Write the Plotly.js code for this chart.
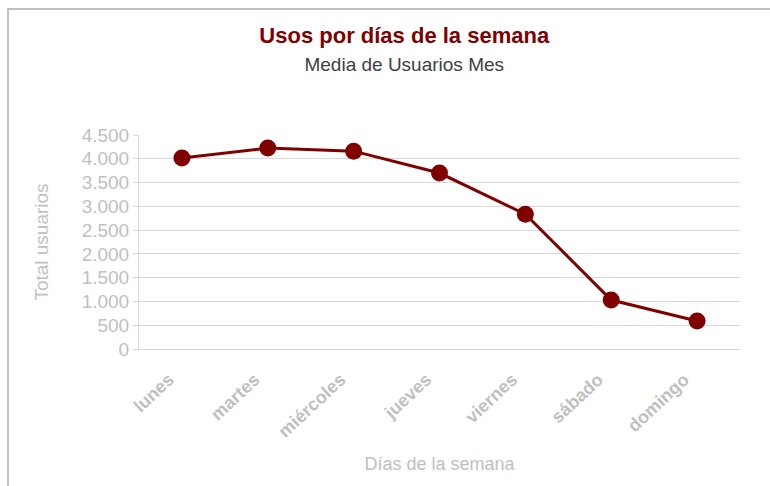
<!DOCTYPE html>
<html>
<head>
<meta charset="utf-8">
<script src="https://cdn.plot.ly/plotly-3.0.1.min.js"></script>
<style>
html,body{margin:0;padding:0;background:#fff;}
#wrap{position:relative;width:770px;height:486px;overflow:hidden;}
#chart{width:770px;height:486px;}
#frame{position:absolute;left:7px;top:8px;width:800px;height:500px;border-top:2px solid #bfbfbf;border-left:2px solid #bfbfbf;pointer-events:none;}
</style>
</head>
<body>
<div id="wrap"><div id="chart"></div><div id="frame"></div></div>
<script>
const categories = ["lunes", "martes", "miércoles", "jueves", "viernes", "sábado", "domingo"];
const usuarios = [4015, 4225, 4160, 3700, 2835, 1030, 590];
const yTicks = [0, 500, 1000, 1500, 2000, 2500, 3000, 3500, 4000, 4500];
const chartTitle = "Usos por días de la semana";
const chartSubtitle = "Media de Usuarios Mes";
const xTitle = "Días de la semana";
const yTitle = "Total usuarios";

const grey = "#bfbfbf";
const font = "Liberation Sans, Arial, sans-serif";

const trace = {
  type: "scatter",
  mode: "lines+markers",
  x: categories,
  y: usuarios,
  line: {color: "#800000", width: 3},
  marker: {color: "#800000", size: 17},
  hoverinfo: "x+y"
};

const layout = {
  width: 770, height: 486,
  margin: {l: 139, r: 30, t: 135, b: 137},
  paper_bgcolor: "#fff", plot_bgcolor: "#fff",
  separators: ",.",
  showlegend: false,
  font: {family: font, color: grey},
  title: {
    text: "<b>" + chartTitle + "</b><br><span style='font-size:19px;color:#404040'>" + chartSubtitle + "</span>",
    font: {family: font, size: 22, color: "#800000"},
    x: 0.525, xanchor: "center", xref: "container",
    y: 0.912, yanchor: "top", yref: "container"
  },
  xaxis: {
    type: "category",
    tickangle: -43,
    tickfont: {family: font, size: 18, color: grey, weight: "bold"},
    ticklabelstandoff: 12,
    ticklabelshift: -13,
    showline: true, linecolor: "#d9d9d9", linewidth: 1,
    showgrid: false, ticks: "",
    title: {text: xTitle, font: {family: font, size: 18, color: grey}, standoff: 16},
    range: [-0.5, 6.5]
  },
  yaxis: {
    range: [0, 4500],
    tickvals: yTicks,
    tickformat: ",d",
    tickfont: {family: font, size: 19, color: grey},
    ticks: "outside", ticklen: 5, tickcolor: "#d9d9d9",
    showline: true, linecolor: "#d9d9d9", linewidth: 1,
    showgrid: true, gridcolor: "#d9d9d9", gridwidth: 1,
    zeroline: false,
    title: {text: yTitle, font: {family: font, size: 19, color: grey}, standoff: 28}
  }
};

Plotly.newPlot("chart", [trace], layout, {displayModeBar: false, staticPlot: true});
</script>
</body>
</html>
